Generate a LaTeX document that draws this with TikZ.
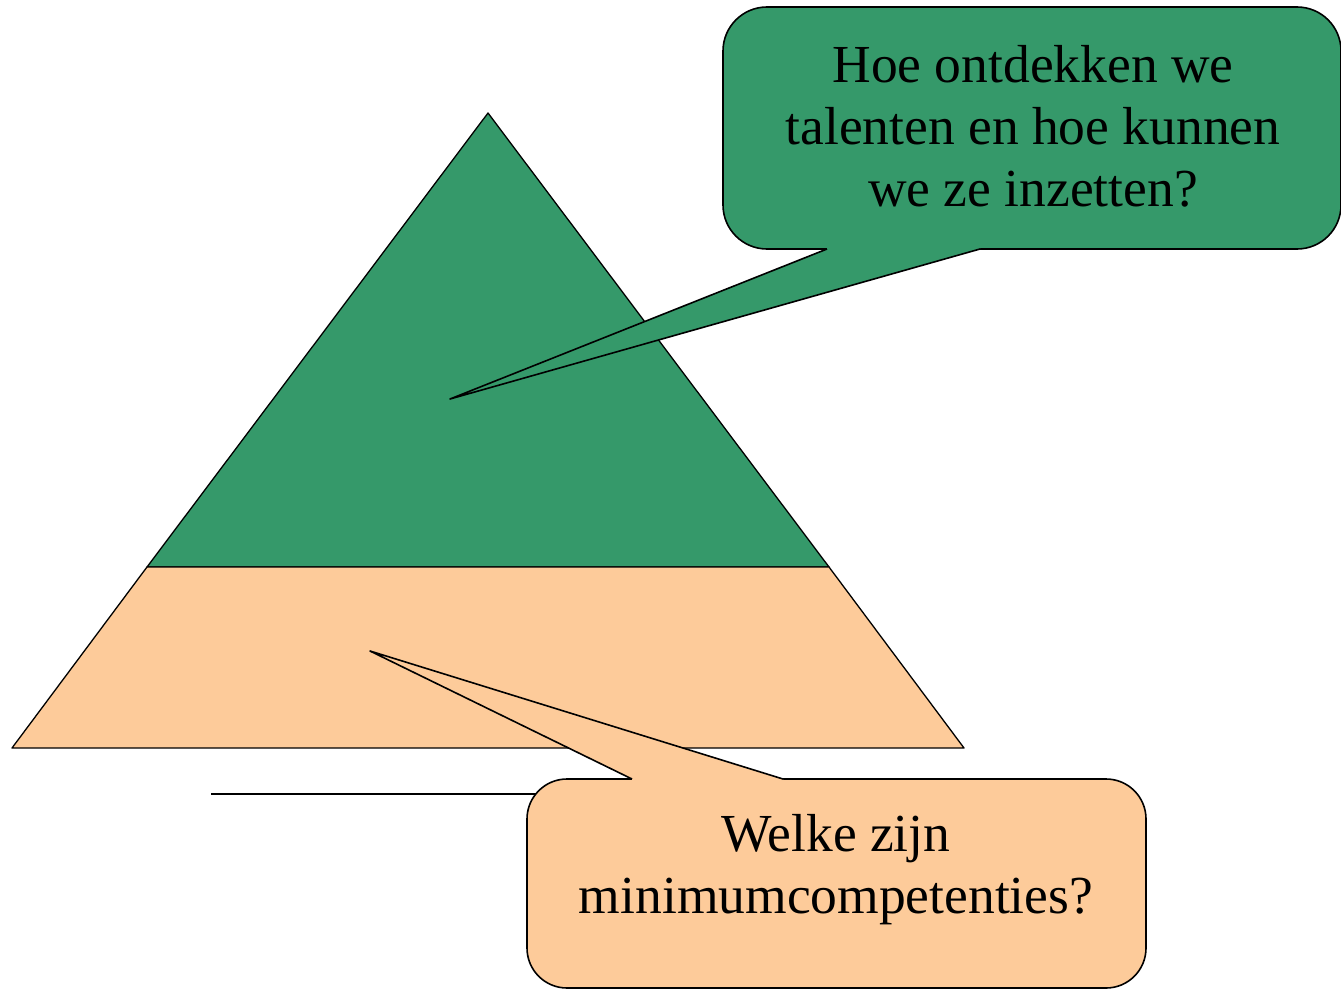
\documentclass[tikz,border=0pt]{standalone}
\usepackage{fontspec}
\setmainfont{Liberation Serif}
\definecolor{topgreen}{HTML}{35996A}
\definecolor{peach}{HTML}{FDCB9A}
\begin{document}
\begin{tikzpicture}[x=1pt,y=-1pt,
  outline/.style={draw=black,line width=1.6pt,line join=round},
  bubble/.style={outline,rounded corners=44pt,inner sep=0pt,anchor=center},
  bubbletext/.style={font=\fontsize{53.5}{62}\selectfont,align=center,text=black,inner sep=0pt}]
\useasboundingbox (0,0) rectangle (1341,990);
% pyramid
\coordinate (apex) at (488,113);
\coordinate (ml) at (147,567);
\coordinate (mr) at (829,567);
\coordinate (bl) at (12,748);
\coordinate (br) at (964,748);
\filldraw[fill=topgreen,outline,line width=1.3pt] (apex) -- (mr) -- (ml) -- cycle;
\filldraw[fill=peach,outline,line width=1.3pt] (ml) -- (mr) -- (br) -- (bl) -- cycle;
% horizontal line
\coordinate (hl) at (211,794);
\coordinate (hr) at (600,794);
\draw[line width=1.6pt] (hl) -- (hr);
% top callout
\node[bubble,fill=topgreen,minimum width=618pt,minimum height=242pt] (tb) at (1032,128) {};
\coordinate (tp1) at (827,249);
\coordinate (tp2) at (980,249);
\coordinate (ttip) at (450,399);
\fill[topgreen] (827,244) -- (tp1) -- (ttip) -- (tp2) -- (980,244) -- cycle;
\draw[outline] (tp1) -- (ttip) -- (tp2);
\node[bubbletext] (tt) at (1033,126) {Hoe ontdekken we\\talenten en hoe kunnen\\we ze inzetten?};
% bottom callout
\node[bubble,fill=peach,rounded corners=40pt,minimum width=619pt,minimum height=209pt] (bb) at (836.5,883.5) {};
\coordinate (bp1) at (632,779);
\coordinate (bp2) at (783,779);
\coordinate (btip) at (370,651);
\fill[peach] (632,784) -- (bp1) -- (btip) -- (bp2) -- (783,784) -- cycle;
\draw[outline] (bp1) -- (btip) -- (bp2);
\node[bubbletext] (bt) at (836,870) {Welke zijn\\minimumcompetenties?};
\end{tikzpicture}
\end{document}
